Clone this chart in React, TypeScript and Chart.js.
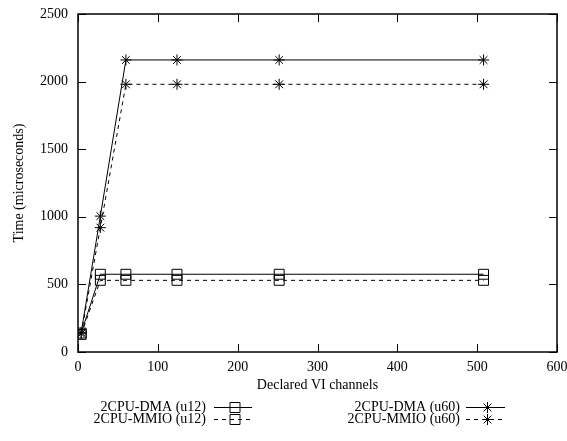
import React, { useEffect, useRef } from "react";
import { Chart, registerables } from "chart.js";

Chart.register(...registerables);

const channels = [4, 28, 60, 124, 252, 508];
const dmaU12 = [140, 575, 575, 575, 575, 575];
const mmioU12 = [130, 530, 530, 530, 530, 530];
const dmaU60 = [145, 1005, 2160, 2160, 2160, 2160];
const mmioU60 = [135, 920, 1980, 1980, 1980, 1980];
const seriesLabels = ["2CPU-DMA (u12)", "2CPU-MMIO (u12)", "2CPU-DMA (u60)", "2CPU-MMIO (u60)"];

const FONT = "'Liberation Serif', 'DejaVu Serif', serif";
const FS = 14;

function toXY(vals: number[]) {
  return channels.map((x, i) => ({ x, y: vals[i] }));
}

function drawMarker(ctx: CanvasRenderingContext2D, style: string, x: number, y: number) {
  ctx.save();
  ctx.strokeStyle = "#000";
  ctx.lineWidth = 1;
  ctx.setLineDash([]);
  ctx.beginPath();
  if (style === "rect") {
    ctx.rect(x - 5, y - 5, 10, 10);
  } else {
    const r = 5.5;
    ctx.moveTo(x - r, y);
    ctx.lineTo(x + r, y);
    ctx.moveTo(x, y - r);
    ctx.lineTo(x, y + r);
    const d = r * Math.SQRT1_2;
    ctx.moveTo(x - d, y - d);
    ctx.lineTo(x + d, y + d);
    ctx.moveTo(x - d, y + d);
    ctx.lineTo(x + d, y - d);
  }
  ctx.stroke();
  ctx.restore();
}

const framePlugin = {
  id: "frame",
  afterDraw(chart: any) {
    const ctx = chart.ctx as CanvasRenderingContext2D;
    const { left, right, top, bottom } = chart.chartArea;
    const xs = chart.scales.x;
    const ys = chart.scales.y;
    ctx.save();
    ctx.strokeStyle = "#000";
    ctx.lineWidth = 1;
    ctx.beginPath();
    const tl = 8;
    xs.ticks.forEach((t: any) => {
      const px = Math.round(xs.getPixelForValue(t.value)) + 0.5;
      ctx.moveTo(px, bottom);
      ctx.lineTo(px, bottom - tl);
      ctx.moveTo(px, top);
      ctx.lineTo(px, top + tl);
    });
    ys.ticks.forEach((t: any) => {
      const py = Math.round(ys.getPixelForValue(t.value)) + 0.5;
      ctx.moveTo(left, py);
      ctx.lineTo(left + tl, py);
      ctx.moveTo(right, py);
      ctx.lineTo(right - tl, py);
    });
    ctx.stroke();
    ctx.lineWidth = 1.5;
    ctx.strokeRect(left, top, right - left, bottom - top);

    // legend
    ctx.font = `${FS}px ${FONT}`;
    ctx.fillStyle = "#000";
    ctx.textAlign = "right";
    ctx.textBaseline = "middle";
    const cols = [
      { textEnd: 206, ls: 214, le: 252 },
      { textEnd: 460, ls: 466, le: 505 },
    ];
    const rows = [407.5, 419.5];
    chart.data.datasets.forEach((ds: any, i: number) => {
      const c = cols[Math.floor(i / 2)];
      const y = rows[i % 2];
      ctx.fillText(ds.label, c.textEnd, y);
      ctx.save();
      ctx.lineWidth = 1;
      ctx.setLineDash(ds.borderDash || []);
      ctx.beginPath();
      ctx.moveTo(c.ls, y);
      ctx.lineTo(c.le, y);
      ctx.stroke();
      ctx.restore();
      drawMarker(ctx, ds.pointStyle, (c.ls + c.le) / 2 + 2, y);
    });
    ctx.restore();
  },
};

export default function App() {
  const ref = useRef<HTMLCanvasElement | null>(null);
  useEffect(() => {
    document.body.style.margin = "0";
    if (!ref.current) return;
    const mk = (label: string, vals: number[], dash: number[], style: string) => ({
      label,
      data: toXY(vals),
      borderColor: "#000",
      backgroundColor: "rgba(0,0,0,0)",
      borderWidth: 1,
      borderDash: dash,
      pointStyle: style,
      pointRadius: style === "rect" ? 7 : 5.5,
      pointBorderWidth: 1,
      pointBorderColor: "#000",
      pointBackgroundColor: "rgba(0,0,0,0)",
      tension: 0,
      fill: false,
    });
    const chart = new Chart(ref.current, {
      type: "line",
      data: {
        datasets: [
          mk(seriesLabels[0], dmaU12, [], "rect"),
          mk(seriesLabels[1], mmioU12, [4, 4], "rect"),
          mk(seriesLabels[2], dmaU60, [], "star"),
          mk(seriesLabels[3], mmioU60, [4, 4], "star"),
        ],
      },
      options: {
        animation: false,
        responsive: false,
        maintainAspectRatio: false,
        layout: { padding: { top: 14, right: 10, left: 0, bottom: 0 } },
        plugins: { legend: { display: false }, tooltip: { enabled: false } },
        scales: {
          x: {
            type: "linear",
            min: 0,
            max: 600,
            grid: { display: false, drawTicks: false },
            border: { display: false },
            ticks: {
              stepSize: 100,
              color: "#000",
              padding: 7,
              font: { family: FONT, size: FS },
              callback: (v: any) => String(v),
            },
            title: {
              display: true,
              text: "Declared VI channels",
              color: "#000",
              font: { family: FONT, size: FS },
              padding: { top: 0, bottom: 47 },
            },
            afterFit(scale: any) {
              scale.height = 89;
              scale.paddingLeft = 0;
              scale.paddingRight = 0;
            },
          },
          y: {
            type: "linear",
            min: 0,
            max: 2500,
            grid: { display: false, drawTicks: false },
            border: { display: false },
            ticks: {
              stepSize: 500,
              color: "#000",
              padding: 10,
              font: { family: FONT, size: FS },
              callback: (v: any) => String(v),
            },
            title: {
              display: true,
              text: "Time (microseconds)",
              color: "#000",
              font: { family: FONT, size: FS },
              padding: { top: 11, bottom: 0 },
            },
            afterFit(scale: any) {
              scale.width = 78;
              scale.paddingTop = 0;
              scale.paddingBottom = 0;
            },
          },
        },
      },
      plugins: [framePlugin],
    } as any);
    return () => chart.destroy();
  }, []);
  return (
    <div style={{ width: 567, height: 441, background: "#fff" }}>
      <canvas ref={ref} width={567} height={441} style={{ display: "block" }} />
    </div>
  );
}
